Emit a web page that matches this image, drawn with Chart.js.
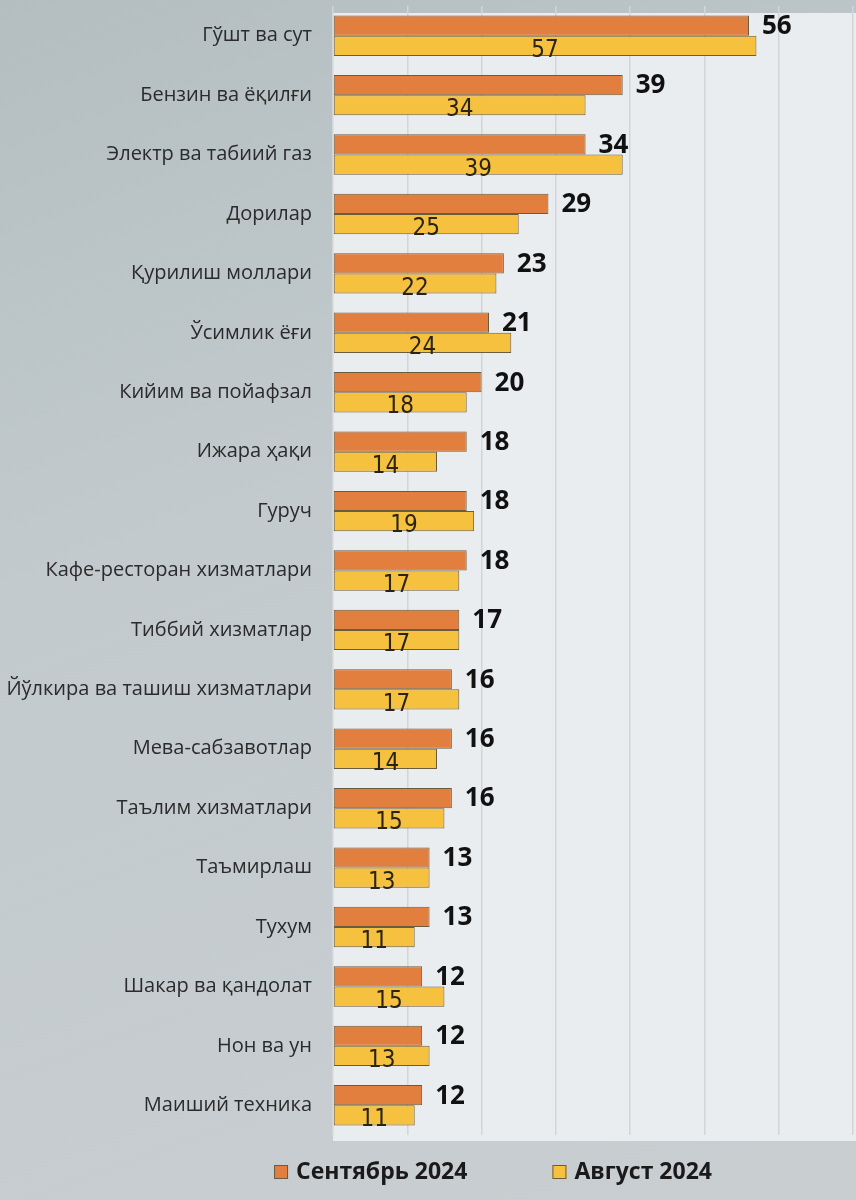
<!DOCTYPE html>
<html>
<head>
<meta charset="utf-8">
<script src="https://cdn.jsdelivr.net/npm/chart.js@4.4.1/dist/chart.umd.min.js"></script>
<style>
  html, body { margin: 0; padding: 0; }
  body { width: 856px; height: 1200px; overflow: hidden;
    background: linear-gradient(160deg, #b4bec1 0%, #c2cacd 40%, #c9ced1 100%); }
  #wrap { position: relative; width: 856px; height: 1200px; }
</style>
</head>
<body>
<div id="wrap"><canvas id="c" width="856" height="1200"></canvas></div>
<script>
const categories = [
  "Гўшт ва сут", "Бензин ва ёқилғи", "Электр ва табиий газ", "Дорилар",
  "Қурилиш моллари", "Ўсимлик ёғи", "Кийим ва пойафзал", "Ижара ҳақи",
  "Гуруч", "Кафе-ресторан хизматлари", "Тиббий хизматлар",
  "Йўлкира ва ташиш хизматлари", "Мева-сабзавотлар", "Таълим хизматлари",
  "Таъмирлаш", "Тухум", "Шакар ва қандолат", "Нон ва ун", "Маиший техника"
];
const september2024 = [56, 39, 34, 29, 23, 21, 20, 18, 18, 18, 17, 16, 16, 16, 13, 13, 12, 12, 12];
const august2024   = [57, 34, 39, 25, 22, 24, 18, 14, 19, 17, 17, 17, 14, 15, 13, 11, 15, 13, 11];
const seriesNames = ["Сентябрь 2024", "Август 2024"];

const ORANGE = '#e27f3e';
const YELLOW = '#f5c13e';
const EDGE = '#6a5c3f';

const plotBg = {
  id: 'plotBg',
  beforeDraw(chart) {
    const {ctx, chartArea: a} = chart;
    ctx.save();
    ctx.fillStyle = '#eaedef';
    ctx.fillRect(a.left, a.top + 7, a.right - a.left + 3, a.bottom - a.top - 1);
    ctx.restore();
  }
};

const valueLabels = {
  id: 'valueLabels',
  afterDatasetsDraw(chart) {
    const ctx = chart.ctx;
    ctx.save();
    chart.getDatasetMeta(0).data.forEach((el, i) => {
      ctx.font = "bold 26px 'Open Sans', 'Noto Sans', sans-serif";
      ctx.fillStyle = '#111';
      ctx.textAlign = 'left';
      ctx.textBaseline = 'middle';
      ctx.fillText(String(september2024[i]), el.x + 13, el.y + 1);
    });
    chart.getDatasetMeta(1).data.forEach((el, i) => {
      ctx.font = "24px 'Liberation Sans Narrow', 'DejaVu Sans Condensed', sans-serif";
      ctx.fillStyle = '#2a2418';
      ctx.textAlign = 'center';
      ctx.textBaseline = 'alphabetic';
      ctx.fillText(String(august2024[i]), (el.x + el.base) / 2, el.y + el.height / 2 + 1);
    });
    ctx.restore();
  }
};

const customLegend = {
  id: 'customLegend',
  afterDraw(chart) {
    const ctx = chart.ctx;
    ctx.save();
    ctx.font = "bold 23px 'Open Sans', 'Noto Sans', sans-serif";
    const colors = [ORANGE, YELLOW];
    const box = 14, gapBoxText = 8, gapItems = 85;
    const widths = seriesNames.map(t => ctx.measureText(t).width);
    const total = box + gapBoxText + widths[0] + gapItems + box + gapBoxText + widths[1];
    let x = 493 - total / 2;
    const yc = 1172;
    seriesNames.forEach((t, i) => {
      ctx.fillStyle = colors[i];
      ctx.fillRect(x, yc - box / 2, box, box);
      ctx.strokeStyle = EDGE;
      ctx.lineWidth = 1;
      ctx.strokeRect(x + 0.5, yc - box / 2 + 0.5, box - 1, box - 1);
      ctx.fillStyle = '#1a1a1a';
      ctx.textAlign = 'left';
      ctx.textBaseline = 'middle';
      ctx.fillText(t, x + box + gapBoxText, yc);
      x += box + gapBoxText + widths[i] + gapItems;
    });
    ctx.restore();
  }
};

new Chart(document.getElementById('c'), {
  type: 'bar',
  data: {
    labels: categories,
    datasets: [
      { label: seriesNames[0], data: september2024, backgroundColor: ORANGE,
        borderColor: EDGE, borderWidth: 1, borderSkipped: false },
      { label: seriesNames[1], data: august2024, backgroundColor: YELLOW,
        borderColor: EDGE, borderWidth: 1, borderSkipped: false }
    ]
  },
  options: {
    indexAxis: 'y',
    responsive: false,
    animation: false,
    devicePixelRatio: 1,
    layout: { padding: { left: 0, right: 3, top: 6, bottom: 65 } },
    datasets: { bar: { barPercentage: 1.0, categoryPercentage: 0.68 } },
    plugins: { legend: { display: false }, tooltip: { enabled: false } },
    scales: {
      x: {
        min: 0, max: 70,
        ticks: { display: false, stepSize: 10 },
        grid: { color: '#d2d6d9', lineWidth: 1.5, drawTicks: false },
        border: { display: false },
        afterFit(scale) { scale.height = 0; scale.paddingLeft = 0; scale.paddingRight = 0; }
      },
      y: {
        ticks: { color: '#2b2b2b', padding: 21,
                 font: { family: "'Open Sans', 'Noto Sans', sans-serif", size: 20 } },
        grid: { display: false, drawTicks: false },
        border: { display: false },
        afterFit(scale) { scale.width = 333; scale.paddingTop = 0; scale.paddingBottom = 0; }
      }
    }
  },
  plugins: [plotBg, valueLabels, customLegend]
});
</script>
</body>
</html>
